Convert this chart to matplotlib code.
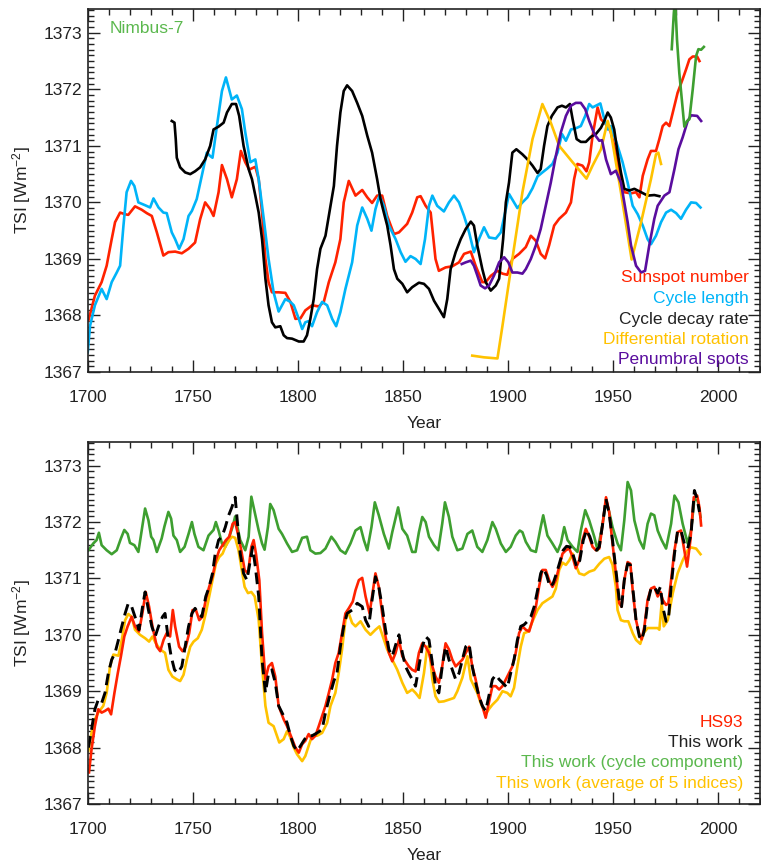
import matplotlib
matplotlib.use('Agg')
import matplotlib.pyplot as plt
from matplotlib.ticker import MultipleLocator

plt.rcParams['font.family'] = ['Liberation Sans', 'DejaVu Sans']
plt.rcParams['mathtext.default'] = 'regular'

# ---------- top panel: reconstructions from single indices ----------
ssn_yr = [1700.2, 1703.3, 1706.5, 1708.9, 1711.3, 1712.9, 1715.3, 1717.7, 1719.2, 1722.4,
          1725.6, 1728.0, 1730.4, 1732.8, 1735.9, 1738.3, 1741.5, 1744.7, 1747.9, 1751.0,
          1753.4, 1755.8, 1758.2, 1759.8, 1762.2, 1763.8, 1766.2, 1768.5, 1770.9, 1772.8,
          1774.9, 1776.8, 1779.7, 1781.3, 1782.9, 1784.5, 1786.0, 1787.6, 1790.8, 1794.0,
          1796.4, 1798.8, 1801.2, 1803.5, 1806.7, 1809.9, 1812.3, 1814.7, 1817.8, 1820.2,
          1821.8, 1824.2, 1827.4, 1830.6, 1833.0, 1835.3, 1837.7, 1840.1, 1842.5, 1845.7,
          1848.1, 1852.0, 1854.4, 1856.8, 1858.4, 1860.8, 1863.2, 1865.5, 1867.1, 1870.3,
          1873.5, 1876.7, 1879.1, 1882.3, 1884.6, 1887.8, 1889.4, 1891.8, 1895.0, 1897.4,
          1899.7, 1902.1, 1905.3, 1908.5, 1910.9, 1913.3, 1915.6, 1917.7, 1919.6, 1922.0,
          1924.4, 1927.6, 1930.0, 1931.5, 1933.1, 1935.5, 1937.4, 1938.7, 1940.3, 1942.7,
          1944.3, 1947.5, 1949.0, 1950.6, 1952.2, 1954.6, 1955.4, 1958.6, 1961.0, 1962.6,
          1964.2, 1966.5, 1968.1, 1970.5, 1972.1, 1973.7, 1975.3, 1976.9, 1978.5, 1980.8,
          1983.2, 1984.8, 1986.4, 1988.0, 1990.1, 1991.2]
ssn_tsi = [1367.91, 1368.35, 1368.59, 1368.88, 1369.35, 1369.65, 1369.82, 1369.79, 1369.78, 1369.93,
           1369.87, 1369.81, 1369.76, 1369.47, 1369.06, 1369.12, 1369.13, 1369.10, 1369.18, 1369.29,
           1369.70, 1370.00, 1369.88, 1369.76, 1370.18, 1370.66, 1370.41, 1370.09, 1370.41, 1370.91,
           1370.71, 1370.58, 1370.63, 1370.41, 1369.82, 1369.00, 1368.59, 1368.41, 1368.41, 1368.40,
           1368.24, 1367.94, 1367.95, 1368.09, 1368.18, 1368.16, 1368.24, 1368.59, 1368.94, 1369.35,
           1370.00, 1370.38, 1370.12, 1370.22, 1370.09, 1369.99, 1370.12, 1370.12, 1369.76, 1369.44,
           1369.47, 1369.62, 1369.82, 1370.09, 1370.11, 1369.94, 1369.82, 1369.00, 1368.79, 1368.85,
           1368.87, 1368.94, 1369.09, 1369.13, 1368.88, 1368.59, 1368.59, 1368.70, 1368.79, 1368.74,
           1368.72, 1369.00, 1369.09, 1369.21, 1369.41, 1369.32, 1369.09, 1369.01, 1369.24, 1369.59,
           1369.71, 1369.82, 1370.00, 1370.41, 1370.68, 1370.65, 1370.55, 1370.71, 1371.18, 1371.68,
           1371.47, 1371.35, 1371.24, 1371.00, 1370.70, 1370.30, 1370.18, 1370.16, 1370.18, 1370.09,
           1370.47, 1370.76, 1370.91, 1370.91, 1371.12, 1371.35, 1371.41, 1371.35, 1371.59, 1371.94,
           1372.18, 1372.35, 1372.53, 1372.58, 1372.58, 1372.50]

cl_yr = [1699.9, 1701.0, 1703.3, 1706.5, 1708.9, 1711.3, 1713.7, 1715.3, 1716.9, 1718.4,
         1720.5, 1722.1, 1724.0, 1727.2, 1729.6, 1731.2, 1733.6, 1735.9, 1737.5, 1739.9,
         1741.5, 1743.4, 1745.5, 1747.9, 1749.5, 1751.8, 1754.2, 1756.6, 1758.2, 1759.3,
         1761.4, 1763.8, 1765.7, 1768.5, 1770.9, 1773.3, 1774.9, 1777.3, 1779.7, 1781.3,
         1783.7, 1786.0, 1788.4, 1790.8, 1792.4, 1794.0, 1796.4, 1798.0, 1800.4, 1802.0,
         1803.5, 1805.1, 1806.7, 1809.1, 1811.5, 1813.9, 1816.3, 1818.2, 1820.2, 1822.6,
         1825.8, 1828.2, 1830.6, 1833.0, 1835.0, 1836.9, 1838.8, 1840.9, 1843.3, 1846.5,
         1848.9, 1851.2, 1853.6, 1856.0, 1858.4, 1860.5, 1862.4, 1864.0, 1866.3, 1869.5,
         1871.9, 1874.3, 1876.7, 1879.1, 1881.5, 1883.8, 1886.2, 1888.6, 1891.0, 1894.2,
         1896.6, 1899.0, 1900.5, 1902.4, 1904.5, 1906.9, 1909.3, 1911.7, 1914.1, 1916.4,
         1918.8, 1921.2, 1923.6, 1925.7, 1927.6, 1930.0, 1932.3, 1934.7, 1936.8, 1938.7,
         1940.3, 1941.9, 1944.0, 1945.9, 1947.5, 1949.0, 1950.6, 1952.2, 1954.6, 1957.0,
         1959.4, 1961.8, 1964.2, 1966.5, 1968.1, 1970.5, 1972.9, 1975.3, 1977.7, 1980.1,
         1982.4, 1984.8, 1987.2, 1989.6, 1991.7]
cl_tsi = [1367.35, 1367.82, 1368.18, 1368.47, 1368.29, 1368.59, 1368.76, 1368.88, 1369.59, 1370.18,
          1370.38, 1370.29, 1370.00, 1369.95, 1369.91, 1370.07, 1369.91, 1369.82, 1369.81, 1369.47,
          1369.35, 1369.18, 1369.35, 1369.76, 1369.85, 1370.06, 1370.47, 1370.88, 1370.82, 1370.79,
          1371.35, 1371.97, 1372.21, 1371.82, 1371.89, 1371.65, 1371.24, 1370.71, 1370.76, 1370.41,
          1369.71, 1369.00, 1368.41, 1368.07, 1368.18, 1368.29, 1368.24, 1368.18, 1367.94, 1367.76,
          1367.88, 1367.90, 1367.81, 1368.06, 1368.24, 1368.18, 1367.94, 1367.81, 1368.06, 1368.47,
          1368.94, 1369.59, 1369.91, 1369.71, 1369.50, 1369.88, 1370.12, 1369.94, 1369.59, 1369.35,
          1369.12, 1368.95, 1369.05, 1369.00, 1368.91, 1369.35, 1369.94, 1370.12, 1369.94, 1369.84,
          1370.00, 1370.12, 1370.00, 1369.76, 1369.47, 1369.12, 1369.35, 1369.56, 1369.38, 1369.36,
          1369.47, 1369.88, 1370.15, 1370.03, 1369.90, 1370.00, 1370.09, 1370.25, 1370.46, 1370.53,
          1370.60, 1370.68, 1370.88, 1371.21, 1371.09, 1371.29, 1371.31, 1371.35, 1371.53, 1371.74,
          1371.68, 1371.71, 1371.75, 1371.47, 1371.29, 1371.35, 1371.18, 1371.00, 1370.71, 1370.35,
          1369.94, 1369.79, 1369.59, 1369.35, 1369.26, 1369.41, 1369.65, 1369.82, 1369.87, 1369.81,
          1369.71, 1369.87, 1370.00, 1369.99, 1369.91]

dr_yr = [1739.9, 1741.2, 1741.8, 1742.3, 1743.9, 1746.3, 1748.7, 1751.0, 1753.4, 1755.8,
         1758.2, 1759.8, 1762.2, 1764.6, 1766.2, 1768.5, 1770.5, 1772.0, 1774.1, 1776.5,
         1778.1, 1779.7, 1781.3, 1782.9, 1784.5, 1786.0, 1787.6, 1789.2, 1791.6, 1793.2,
         1794.8, 1797.2, 1800.4, 1802.7, 1804.3, 1805.9, 1807.5, 1809.1, 1810.7, 1813.1,
         1815.5, 1817.1, 1818.6, 1820.2, 1821.8, 1823.4, 1825.8, 1828.2, 1830.6, 1833.0,
         1835.3, 1837.7, 1839.3, 1840.9, 1842.5, 1844.1, 1845.7, 1847.3, 1849.7, 1852.0,
         1854.4, 1857.6, 1860.0, 1862.4, 1864.8, 1867.1, 1869.5, 1871.1, 1872.7, 1875.1,
         1877.5, 1879.9, 1882.3, 1883.8, 1885.4, 1887.8, 1889.4, 1891.8, 1894.2, 1895.8,
         1897.7, 1899.0, 1900.5, 1902.1, 1904.0, 1906.9, 1909.3, 1911.7, 1914.1, 1915.6,
         1917.2, 1918.8, 1920.9, 1923.6, 1925.7, 1927.6, 1929.5, 1930.8, 1932.7, 1934.7,
         1937.1, 1939.5, 1941.9, 1944.3, 1946.0, 1947.5, 1949.0, 1950.6, 1952.2, 1953.8,
         1955.4, 1957.8, 1960.2, 1963.4, 1966.5, 1969.7, 1972.1]
dr_tsi = [1371.44, 1371.41, 1371.12, 1370.79, 1370.62, 1370.53, 1370.50, 1370.55, 1370.62, 1370.76,
          1371.00, 1371.29, 1371.34, 1371.41, 1371.59, 1371.74, 1371.74, 1371.53, 1371.00, 1370.59,
          1370.41, 1370.12, 1369.82, 1369.35, 1368.65, 1368.18, 1367.88, 1367.79, 1367.81, 1367.65,
          1367.60, 1367.59, 1367.54, 1367.54, 1367.65, 1367.94, 1368.29, 1368.82, 1369.18, 1369.41,
          1369.94, 1370.29, 1371.00, 1371.59, 1371.97, 1372.07, 1371.97, 1371.76, 1371.53, 1371.18,
          1370.88, 1370.41, 1370.06, 1369.82, 1369.59, 1369.24, 1368.82, 1368.65, 1368.56, 1368.41,
          1368.50, 1368.58, 1368.56, 1368.47, 1368.26, 1368.12, 1367.97, 1368.29, 1368.82, 1369.12,
          1369.35, 1369.53, 1369.66, 1369.59, 1369.24, 1368.82, 1368.59, 1368.44, 1368.53, 1368.65,
          1369.35, 1370.00, 1370.35, 1370.88, 1370.94, 1370.85, 1370.76, 1370.65, 1370.52, 1370.59,
          1371.00, 1371.35, 1371.53, 1371.68, 1371.71, 1371.68, 1371.74, 1371.47, 1371.12, 1371.07,
          1371.07, 1371.16, 1371.21, 1371.32, 1371.45, 1371.59, 1371.50, 1371.29, 1370.88, 1370.53,
          1370.24, 1370.21, 1370.24, 1370.18, 1370.12, 1370.13, 1370.11]

rot_yr = [1883.0, 1888.6, 1895.0, 1897.4, 1902.1, 1906.9, 1911.7, 1916.4, 1920.4, 1924.4,
          1930.8, 1937.4, 1940.3, 1944.3, 1947.5, 1949.0, 1953.8, 1958.9, 1963.4, 1968.1,
          1970.5, 1971.6, 1972.9]
rot_tsi = [1367.29, 1367.26, 1367.24, 1367.82, 1369.00, 1370.18, 1371.12, 1371.74, 1371.41, 1371.00,
           1370.71, 1370.42, 1370.65, 1370.94, 1371.44, 1371.24, 1370.18, 1368.99, 1369.65, 1370.41,
           1370.85, 1370.88, 1370.68]

pen_yr = [1878.0, 1879.9, 1882.3, 1883.8, 1885.4, 1887.0, 1889.1, 1891.0, 1893.4, 1895.8,
          1898.2, 1900.2, 1902.1, 1904.5, 1906.9, 1908.5, 1910.9, 1913.3, 1915.6, 1918.0,
          1920.4, 1922.8, 1925.2, 1927.6, 1930.0, 1932.3, 1934.7, 1936.8, 1938.7, 1941.1,
          1943.5, 1944.8, 1946.7, 1949.0, 1951.4, 1953.8, 1955.4, 1957.0, 1958.6, 1961.0,
          1963.4, 1965.3, 1967.3, 1969.7, 1971.3, 1972.9, 1974.5, 1976.9, 1979.3, 1981.2,
          1983.2, 1985.6, 1987.2, 1990.1, 1992.0]
pen_tsi = [1368.91, 1368.94, 1368.97, 1368.88, 1368.71, 1368.53, 1368.48, 1368.53, 1368.71, 1368.94,
           1369.03, 1368.94, 1368.76, 1368.76, 1368.74, 1368.82, 1369.00, 1369.24, 1369.53, 1369.94,
           1370.35, 1370.82, 1371.24, 1371.53, 1371.71, 1371.76, 1371.76, 1371.65, 1371.44, 1371.21,
           1371.09, 1371.10, 1370.76, 1370.50, 1370.56, 1370.35, 1370.00, 1369.65, 1369.24, 1368.88,
           1368.76, 1368.79, 1369.24, 1369.71, 1369.94, 1370.03, 1370.12, 1370.18, 1370.59, 1370.94,
           1371.15, 1371.44, 1371.54, 1371.53, 1371.44]

nim_yr = [1978.0, 1979.0, 1979.6, 1980.5, 1981.6, 1982.8, 1984.0, 1985.3, 1986.4, 1988.0,
          1989.6, 1990.7, 1992.0, 1993.3]
nim_tsi = [1372.71, 1373.35, 1373.60, 1372.88, 1372.29, 1371.82, 1371.34, 1371.44, 1371.47, 1372.00,
           1372.59, 1372.71, 1372.70, 1372.75]

# ---------- bottom panel: composite reconstructions ----------
cyc_yr = [1700.2, 1702.5, 1704.1, 1705.2, 1706.5, 1708.9, 1711.3, 1713.7, 1715.7, 1717.3,
          1718.9, 1720.0, 1722.1, 1724.0, 1725.6, 1727.2, 1728.8, 1730.1, 1731.2, 1732.8,
          1735.1, 1736.4, 1738.3, 1739.6, 1740.7, 1742.3, 1743.9, 1746.0, 1747.9, 1749.5,
          1750.7, 1752.6, 1755.0, 1757.4, 1759.8, 1760.9, 1762.2, 1763.8, 1765.4, 1767.3,
          1768.9, 1770.1, 1772.5, 1774.9, 1776.5, 1777.8, 1779.7, 1781.3, 1782.9, 1784.1,
          1785.7, 1786.8, 1788.4, 1790.8, 1792.4, 1794.8, 1797.2, 1799.6, 1802.0, 1804.3,
          1805.9, 1808.3, 1810.7, 1813.1, 1815.9, 1817.8, 1820.2, 1822.6, 1825.0, 1827.4,
          1829.8, 1831.4, 1833.0, 1835.0, 1836.6, 1838.5, 1840.9, 1843.3, 1844.9, 1847.7,
          1849.7, 1852.0, 1854.4, 1856.0, 1857.6, 1859.2, 1860.8, 1862.4, 1864.8, 1866.8,
          1868.7, 1870.0, 1871.9, 1873.5, 1875.9, 1878.3, 1880.7, 1883.0, 1885.4, 1887.8,
          1890.2, 1892.6, 1894.2, 1896.6, 1899.0, 1901.3, 1903.7, 1905.6, 1906.9, 1908.5,
          1910.9, 1913.3, 1915.6, 1916.8, 1918.8, 1921.2, 1923.6, 1925.2, 1926.8, 1928.4,
          1930.8, 1933.1, 1934.7, 1936.8, 1938.7, 1941.1, 1942.7, 1945.1, 1946.7, 1948.2,
          1949.8, 1952.2, 1953.8, 1955.4, 1957.0, 1958.6, 1960.2, 1962.6, 1964.6, 1966.5,
          1968.1, 1969.7, 1971.3, 1973.2, 1975.3, 1977.7, 1979.3, 1981.2, 1983.2, 1985.6,
          1987.2, 1988.8, 1990.4, 1991.7]
cyc_tsi = [1371.50, 1371.62, 1371.68, 1371.81, 1371.59, 1371.50, 1371.43, 1371.50, 1371.71, 1371.86,
           1371.79, 1371.63, 1371.59, 1371.47, 1371.85, 1372.24, 1372.03, 1371.74, 1371.68, 1371.47,
           1371.71, 1371.92, 1372.18, 1372.06, 1371.76, 1371.68, 1371.47, 1371.56, 1371.79, 1372.00,
           1371.79, 1371.56, 1371.50, 1371.76, 1371.86, 1372.00, 1371.85, 1371.62, 1371.56, 1371.74,
           1371.92, 1372.10, 1371.68, 1371.50, 1371.74, 1372.45, 1372.12, 1371.85, 1371.62, 1371.51,
           1371.91, 1372.32, 1372.21, 1371.88, 1371.79, 1371.62, 1371.47, 1371.50, 1371.72, 1371.74,
           1371.50, 1371.44, 1371.45, 1371.53, 1371.74, 1371.65, 1371.50, 1371.44, 1371.62, 1371.85,
           1371.91, 1371.68, 1371.50, 1371.91, 1372.35, 1372.12, 1371.79, 1371.53, 1371.82, 1372.26,
           1371.88, 1371.76, 1371.47, 1371.47, 1371.82, 1372.09, 1372.00, 1371.74, 1371.59, 1371.50,
           1371.97, 1372.35, 1372.09, 1371.74, 1371.50, 1371.53, 1371.79, 1371.85, 1371.56, 1371.47,
           1371.68, 1372.00, 1371.88, 1371.62, 1371.47, 1371.56, 1371.76, 1371.85, 1371.82, 1371.65,
           1371.50, 1371.47, 1371.91, 1372.12, 1371.76, 1371.62, 1371.47, 1371.62, 1371.91, 1371.68,
           1371.56, 1371.47, 1371.85, 1372.21, 1372.03, 1371.74, 1371.50, 1371.97, 1372.38, 1372.18,
           1371.91, 1371.62, 1371.50, 1372.03, 1372.71, 1372.56, 1372.03, 1371.68, 1371.53, 1371.97,
           1372.15, 1372.12, 1371.85, 1371.68, 1371.53, 1371.97, 1372.47, 1372.35, 1371.97, 1371.62,
           1371.85, 1372.41, 1372.38, 1372.09]

tw_yr = [1700.2, 1701.7, 1703.3, 1704.9, 1706.5, 1708.1, 1709.7, 1711.3, 1712.9, 1714.5,
         1716.1, 1717.7, 1719.2, 1720.8, 1722.4, 1724.3, 1726.0, 1727.2, 1728.8, 1730.4,
         1732.0, 1733.6, 1735.5, 1736.7, 1738.3, 1739.6, 1741.2, 1742.8, 1744.7, 1746.3,
         1747.9, 1749.5, 1751.0, 1752.6, 1754.2, 1756.1, 1757.7, 1759.3, 1760.6, 1762.2,
         1763.8, 1765.4, 1767.0, 1768.5, 1770.1, 1771.4, 1772.5, 1774.1, 1775.7, 1777.3,
         1778.4, 1779.7, 1781.3, 1782.9, 1784.5, 1786.0, 1787.6, 1789.2, 1790.8, 1793.2,
         1794.8, 1796.4, 1798.0, 1799.6, 1801.2, 1802.7, 1804.3, 1806.7, 1809.1, 1811.5,
         1813.1, 1815.5, 1817.1, 1818.6, 1820.2, 1821.8, 1823.4, 1825.8, 1828.2, 1830.6,
         1832.2, 1833.7, 1835.3, 1836.9, 1838.5, 1840.1, 1841.7, 1843.3, 1844.9, 1846.5,
         1848.1, 1849.7, 1851.2, 1852.8, 1854.4, 1856.0, 1857.6, 1859.2, 1860.8, 1862.4,
         1864.0, 1865.5, 1867.1, 1868.7, 1870.3, 1871.9, 1873.5, 1875.1, 1876.7, 1878.3,
         1879.9, 1881.5, 1883.0, 1884.6, 1886.2, 1887.8, 1889.4, 1890.9, 1892.6, 1894.2,
         1895.8, 1898.2, 1899.7, 1901.3, 1902.9, 1904.5, 1906.1, 1907.7, 1909.3, 1910.9,
         1912.5, 1914.1, 1915.6, 1916.8, 1918.4, 1920.0, 1921.5, 1923.1, 1924.7, 1926.3,
         1927.9, 1929.5, 1931.1, 1932.7, 1934.2, 1935.9, 1937.4, 1939.0, 1940.6, 1942.2,
         1943.5, 1945.1, 1946.7, 1948.2, 1949.8, 1951.4, 1953.0, 1954.1, 1955.4, 1957.0,
         1958.3, 1959.4, 1961.0, 1962.6, 1963.7, 1965.0, 1966.5, 1968.1, 1969.7, 1971.3,
         1972.6, 1973.7, 1975.3, 1976.4, 1977.7, 1979.3, 1980.8, 1982.4, 1984.0, 1985.6,
         1987.2, 1988.8, 1990.1, 1991.2]
tw_tsi = [1368.00, 1368.32, 1368.68, 1368.85, 1368.79, 1368.97, 1369.32, 1369.56, 1369.68, 1369.91,
          1370.15, 1370.38, 1370.56, 1370.50, 1370.32, 1370.09, 1370.50, 1370.76, 1370.44, 1370.15,
          1369.97, 1370.15, 1370.32, 1370.38, 1369.91, 1369.62, 1369.38, 1369.32, 1369.44, 1369.79,
          1370.15, 1370.38, 1370.47, 1370.38, 1370.32, 1370.68, 1370.85, 1371.09, 1371.44, 1371.68,
          1371.74, 1371.91, 1372.12, 1372.26, 1372.44, 1371.91, 1371.44, 1371.09, 1370.97, 1371.32,
          1371.56, 1371.21, 1370.68, 1369.56, 1368.97, 1369.32, 1369.38, 1369.15, 1368.74, 1368.56,
          1368.44, 1368.21, 1368.03, 1367.94, 1368.03, 1368.12, 1368.21, 1368.21, 1368.26, 1368.32,
          1368.62, 1368.97, 1369.18, 1369.32, 1369.79, 1370.15, 1370.38, 1370.44, 1370.56, 1370.50,
          1370.26, 1370.15, 1370.62, 1371.03, 1370.85, 1370.50, 1370.09, 1369.74, 1369.62, 1369.82,
          1370.00, 1369.68, 1369.44, 1369.32, 1369.21, 1369.09, 1369.44, 1369.79, 1369.97, 1369.91,
          1369.50, 1369.09, 1368.97, 1369.44, 1369.79, 1369.56, 1369.38, 1369.21, 1369.32, 1369.56,
          1369.79, 1369.84, 1369.44, 1369.15, 1368.91, 1368.74, 1368.65, 1368.91, 1369.21, 1369.29,
          1369.21, 1369.12, 1369.06, 1369.32, 1369.56, 1369.91, 1370.15, 1370.18, 1370.24, 1370.32,
          1370.50, 1370.79, 1371.09, 1371.18, 1371.06, 1370.85, 1370.91, 1371.09, 1371.29, 1371.50,
          1371.57, 1371.56, 1371.41, 1371.21, 1371.32, 1371.68, 1371.86, 1371.74, 1371.56, 1371.50,
          1371.56, 1371.97, 1372.41, 1372.15, 1371.68, 1371.15, 1370.62, 1370.50, 1370.97, 1371.26,
          1371.24, 1370.85, 1370.26, 1369.97, 1369.91, 1370.09, 1370.56, 1370.82, 1370.85, 1370.74,
          1370.85, 1370.50, 1370.24, 1370.26, 1370.85, 1371.44, 1371.85, 1371.85, 1371.62, 1371.53,
          1371.79, 1372.56, 1372.41, 1372.18]

hs_yr = [1700.5, 1701.7, 1703.3, 1704.9, 1706.5, 1708.1, 1709.7, 1711.0, 1712.6, 1714.2,
         1715.7, 1717.3, 1718.9, 1720.8, 1722.4, 1724.3, 1725.9, 1727.5, 1729.1, 1730.7,
         1732.8, 1734.4, 1736.0, 1737.5, 1739.1, 1740.4, 1741.5, 1743.4, 1745.0, 1746.6,
         1748.2, 1749.8, 1751.4, 1753.0, 1754.5, 1756.1, 1757.7, 1759.3, 1760.9, 1762.5,
         1764.1, 1765.7, 1767.3, 1768.9, 1770.1, 1771.4, 1773.0, 1774.6, 1776.2, 1777.8,
         1778.9, 1780.0, 1781.6, 1782.9, 1784.5, 1786.0, 1787.6, 1789.2, 1790.8, 1793.2,
         1794.8, 1797.2, 1798.8, 1800.4, 1802.0, 1803.5, 1805.1, 1806.7, 1808.3, 1809.9,
         1811.5, 1813.1, 1814.7, 1816.3, 1817.8, 1819.4, 1821.0, 1822.6, 1824.2, 1826.1,
         1827.4, 1829.0, 1830.6, 1832.2, 1834.1, 1835.3, 1836.9, 1838.5, 1840.1, 1841.7,
         1843.3, 1844.9, 1846.5, 1848.1, 1849.7, 1851.2, 1852.8, 1854.4, 1856.0, 1857.6,
         1859.2, 1860.8, 1862.4, 1864.0, 1865.5, 1867.1, 1868.7, 1870.3, 1871.9, 1873.5,
         1875.1, 1876.7, 1878.3, 1879.9, 1881.5, 1883.0, 1884.6, 1886.2, 1887.8, 1889.4,
         1890.9, 1892.6, 1894.2, 1895.8, 1897.4, 1899.0, 1900.5, 1902.1, 1903.7, 1905.3,
         1906.9, 1908.5, 1910.1, 1911.7, 1913.3, 1914.8, 1916.4, 1918.0, 1919.6, 1921.2,
         1922.8, 1924.4, 1926.0, 1927.6, 1929.2, 1930.8, 1932.3, 1933.9, 1935.5, 1937.1,
         1938.7, 1940.3, 1941.9, 1943.5, 1945.1, 1946.7, 1948.2, 1949.8, 1951.4, 1953.0,
         1954.1, 1955.4, 1957.0, 1958.3, 1959.4, 1961.0, 1962.6, 1963.7, 1965.0, 1966.5,
         1968.1, 1969.7, 1971.3, 1972.6, 1973.7, 1975.3, 1976.4, 1977.7, 1979.3, 1980.8,
         1982.4, 1984.0, 1985.3, 1986.9, 1988.5, 1990.1, 1991.2, 1992.0]
hs_tsi = [1367.56, 1367.97, 1368.38, 1368.68, 1368.62, 1368.65, 1368.69, 1368.59, 1368.97, 1369.32,
          1369.62, 1369.97, 1370.15, 1370.32, 1370.15, 1370.06, 1370.38, 1370.76, 1370.50, 1370.15,
          1369.79, 1369.71, 1369.91, 1370.03, 1369.97, 1370.44, 1370.15, 1369.79, 1369.71, 1369.79,
          1370.03, 1370.44, 1370.44, 1370.26, 1370.32, 1370.62, 1370.85, 1371.03, 1371.32, 1371.50,
          1371.59, 1371.68, 1371.74, 1371.97, 1372.00, 1371.79, 1371.50, 1371.15, 1371.09, 1371.56,
          1371.68, 1371.44, 1370.97, 1370.03, 1369.21, 1369.44, 1369.50, 1369.26, 1368.74, 1368.50,
          1368.38, 1368.15, 1368.00, 1367.91, 1368.06, 1368.12, 1368.24, 1368.15, 1368.21, 1368.38,
          1368.56, 1368.74, 1368.97, 1369.21, 1369.50, 1369.68, 1370.03, 1370.38, 1370.47, 1370.59,
          1370.79, 1370.97, 1371.01, 1370.68, 1370.38, 1370.68, 1371.09, 1370.85, 1370.38, 1369.97,
          1369.68, 1369.53, 1369.68, 1369.91, 1369.62, 1369.53, 1369.44, 1369.38, 1369.35, 1369.68,
          1369.85, 1369.79, 1369.68, 1369.44, 1369.26, 1369.15, 1369.44, 1369.85, 1369.74, 1369.56,
          1369.44, 1369.50, 1369.56, 1369.68, 1369.79, 1369.44, 1369.21, 1368.91, 1368.74, 1368.53,
          1368.79, 1369.09, 1369.09, 1369.03, 1369.09, 1369.21, 1369.32, 1369.44, 1369.68, 1370.03,
          1370.15, 1370.09, 1370.06, 1370.26, 1370.50, 1370.85, 1371.15, 1371.15, 1370.97, 1370.85,
          1370.97, 1371.21, 1371.44, 1371.50, 1371.53, 1371.38, 1371.18, 1371.32, 1371.68, 1371.88,
          1371.74, 1371.56, 1371.50, 1371.53, 1371.97, 1372.44, 1372.18, 1371.62, 1371.09, 1370.56,
          1370.50, 1370.97, 1371.29, 1371.26, 1370.79, 1370.26, 1370.00, 1369.92, 1370.15, 1370.62,
          1370.82, 1370.85, 1370.68, 1370.76, 1370.62, 1370.53, 1370.56, 1370.97, 1371.50, 1371.82,
          1371.85, 1371.50, 1371.21, 1371.68, 1372.44, 1372.47, 1372.26, 1371.94]

avg_yr = [1700.2, 1701.7, 1703.3, 1704.9, 1707.3, 1708.9, 1710.5, 1712.1, 1714.5, 1716.1,
          1717.7, 1719.2, 1720.8, 1722.4, 1724.8, 1727.2, 1729.1, 1730.7, 1732.3, 1734.4,
          1736.7, 1738.3, 1740.2, 1742.3, 1743.9, 1745.5, 1747.1, 1748.7, 1750.3, 1752.3,
          1754.2, 1756.1, 1757.7, 1759.3, 1760.9, 1762.5, 1764.1, 1765.4, 1767.3, 1768.5,
          1770.1, 1771.7, 1773.0, 1774.6, 1776.2, 1777.8, 1779.4, 1781.3, 1782.9, 1784.5,
          1786.0, 1788.4, 1790.0, 1791.1, 1793.2, 1794.8, 1796.4, 1798.0, 1799.6, 1802.0,
          1803.5, 1805.1, 1806.7, 1809.1, 1811.5, 1813.9, 1815.5, 1817.8, 1819.4, 1821.0,
          1822.6, 1823.9, 1825.8, 1827.4, 1829.8, 1832.2, 1834.5, 1836.9, 1838.8, 1840.4,
          1842.5, 1844.9, 1847.3, 1849.7, 1852.0, 1854.4, 1856.0, 1857.9, 1860.0, 1861.6,
          1862.4, 1864.0, 1865.5, 1867.1, 1869.5, 1871.9, 1874.3, 1875.9, 1878.3, 1880.7,
          1882.3, 1883.8, 1885.4, 1887.0, 1889.4, 1890.9, 1892.6, 1895.0, 1897.4, 1899.7,
          1901.3, 1902.9, 1904.5, 1906.1, 1907.7, 1909.8, 1911.7, 1914.1, 1916.4, 1918.8,
          1921.2, 1922.8, 1924.4, 1926.0, 1927.6, 1929.2, 1930.8, 1932.3, 1933.9, 1936.3,
          1938.7, 1941.1, 1943.5, 1945.9, 1948.2, 1949.8, 1951.4, 1952.2, 1953.8, 1955.4,
          1957.3, 1959.4, 1961.0, 1963.0, 1964.6, 1966.5, 1968.9, 1971.3, 1972.1, 1973.2,
          1974.2, 1976.1, 1978.5, 1980.8, 1983.2, 1985.6, 1987.2, 1989.6, 1991.7]
avg_tsi = [1367.94, 1368.26, 1368.50, 1368.62, 1368.74, 1368.97, 1369.44, 1369.65, 1369.63, 1369.91,
           1370.26, 1370.37, 1370.32, 1370.09, 1370.00, 1369.94, 1369.88, 1369.97, 1369.85, 1369.74,
           1369.68, 1369.38, 1369.26, 1369.21, 1369.18, 1369.29, 1369.56, 1369.79, 1369.88, 1369.94,
           1370.09, 1370.38, 1370.68, 1370.97, 1371.26, 1371.38, 1371.44, 1371.56, 1371.68, 1371.74,
           1371.72, 1371.50, 1371.21, 1370.85, 1370.74, 1370.76, 1370.68, 1370.26, 1369.44, 1368.74,
           1368.44, 1368.38, 1368.21, 1368.09, 1368.15, 1368.29, 1368.18, 1368.00, 1367.88, 1367.76,
           1367.85, 1368.03, 1368.21, 1368.21, 1368.26, 1368.44, 1368.74, 1368.97, 1369.32, 1369.74,
           1370.26, 1370.41, 1370.21, 1370.15, 1370.24, 1370.09, 1370.00, 1370.09, 1370.15, 1369.97,
           1369.74, 1369.56, 1369.38, 1369.15, 1368.97, 1369.03, 1368.97, 1368.88, 1369.32, 1369.79,
           1369.79, 1369.21, 1368.91, 1368.81, 1368.82, 1368.85, 1368.88, 1369.00, 1369.24, 1369.62,
           1369.21, 1369.09, 1368.97, 1368.79, 1368.59, 1368.68, 1368.76, 1368.85, 1369.00, 1368.97,
           1368.91, 1369.06, 1369.44, 1369.79, 1370.03, 1370.06, 1370.24, 1370.44, 1370.56, 1370.62,
           1370.68, 1370.82, 1371.15, 1371.28, 1371.24, 1371.32, 1371.44, 1371.24, 1371.09, 1371.06,
           1371.12, 1371.15, 1371.26, 1371.35, 1371.38, 1371.24, 1370.85, 1370.44, 1370.26, 1370.24,
           1370.24, 1370.03, 1369.91, 1369.84, 1370.03, 1370.12, 1370.12, 1370.12, 1370.09, 1370.56,
           1370.15, 1370.26, 1370.74, 1371.09, 1371.32, 1371.50, 1371.55, 1371.53, 1371.43]

RED = '#ff2200'
CYAN = '#00b4f8'
GOLD = '#ffc200'
PURPLE = '#5a0d9e'
GREEN = '#3e9f30'
GREEN_TXT = '#5bb84e'
LW = 1.9

fig = plt.figure(figsize=(7.61, 8.67), dpi=100)
ax1 = fig.add_axes([0.1156, 0.5709, 0.8830, 0.4187])
ax2 = fig.add_axes([0.1156, 0.0727, 0.8830, 0.4175])

ax1.plot(ssn_yr, ssn_tsi, color=RED, lw=LW)
ax1.plot(cl_yr, cl_tsi, color=CYAN, lw=LW)
ax1.plot(dr_yr, dr_tsi, color='black', lw=LW)
ax1.plot(rot_yr, rot_tsi, color=GOLD, lw=LW)
ax1.plot(pen_yr, pen_tsi, color=PURPLE, lw=LW)
ax1.plot(nim_yr, nim_tsi, color=GREEN, lw=LW)

ax2.plot(cyc_yr, cyc_tsi, color=GREEN, lw=LW)
ax2.plot(avg_yr, avg_tsi, color=GOLD, lw=LW)
ax2.plot(hs_yr, hs_tsi, color=RED, lw=LW)
ax2.plot(tw_yr, tw_tsi, color='black', lw=2.1, linestyle=(0, (4.0, 2.2)))

for ax in (ax1, ax2):
    ax.set_xlim(1700, 2020)
    ax.set_ylim(1367, 1373.42)
    ax.xaxis.set_major_locator(MultipleLocator(50))
    ax.xaxis.set_minor_locator(MultipleLocator(10))
    ax.yaxis.set_major_locator(MultipleLocator(1))
    ax.yaxis.set_minor_locator(MultipleLocator(0.1))
    ax.tick_params(which='both', direction='in', top=True, right=True,
                   labelsize=12.5, colors='#222222', width=1.0)
    ax.tick_params(which='major', length=8.5)
    ax.tick_params(which='minor', length=4.2)
    ax.tick_params(axis='x', pad=13)
    ax.tick_params(axis='y', pad=4)
    for s in ax.spines.values():
        s.set_linewidth(1.2)
        s.set_color('#222222')
    ax.set_xlabel('Year', fontsize=12.5, labelpad=8, color='#222222')
    ax.set_ylabel('TSI [Wm$^{-2}$]', fontsize=12.5, labelpad=8, color='#222222')

ax1.text(0.0327, 0.9477, 'Nimbus-7', color=GREEN_TXT, fontsize=12.5,
         transform=ax1.transAxes, va='center', ha='left')

top_labels = ['Sunspot number', 'Cycle length', 'Cycle decay rate',
              'Differential rotation', 'Penumbral spots']
top_colors = [RED, CYAN, '#222222', GOLD, PURPLE]
top_ys = [0.2617, 0.2039, 0.146, 0.0909, 0.0358]
for lab, c, yy in zip(top_labels, top_colors, top_ys):
    ax1.text(0.9836, yy, lab, color=c, fontsize=12.5, transform=ax1.transAxes,
             ha='right', va='center')

bot_labels = ['HS93', 'This work', 'This work (cycle component)',
              'This work (average of 5 indices)']
bot_colors = [RED, '#222222', GREEN_TXT, GOLD]
bot_ys = [0.2238, 0.1685, 0.1133, 0.0552]
for lab, c, yy in zip(bot_labels, bot_colors, bot_ys):
    ax2.text(0.9747, yy, lab, color=c, fontsize=12.5, transform=ax2.transAxes,
             ha='right', va='center')

fig.savefig('out.png', dpi=100)
